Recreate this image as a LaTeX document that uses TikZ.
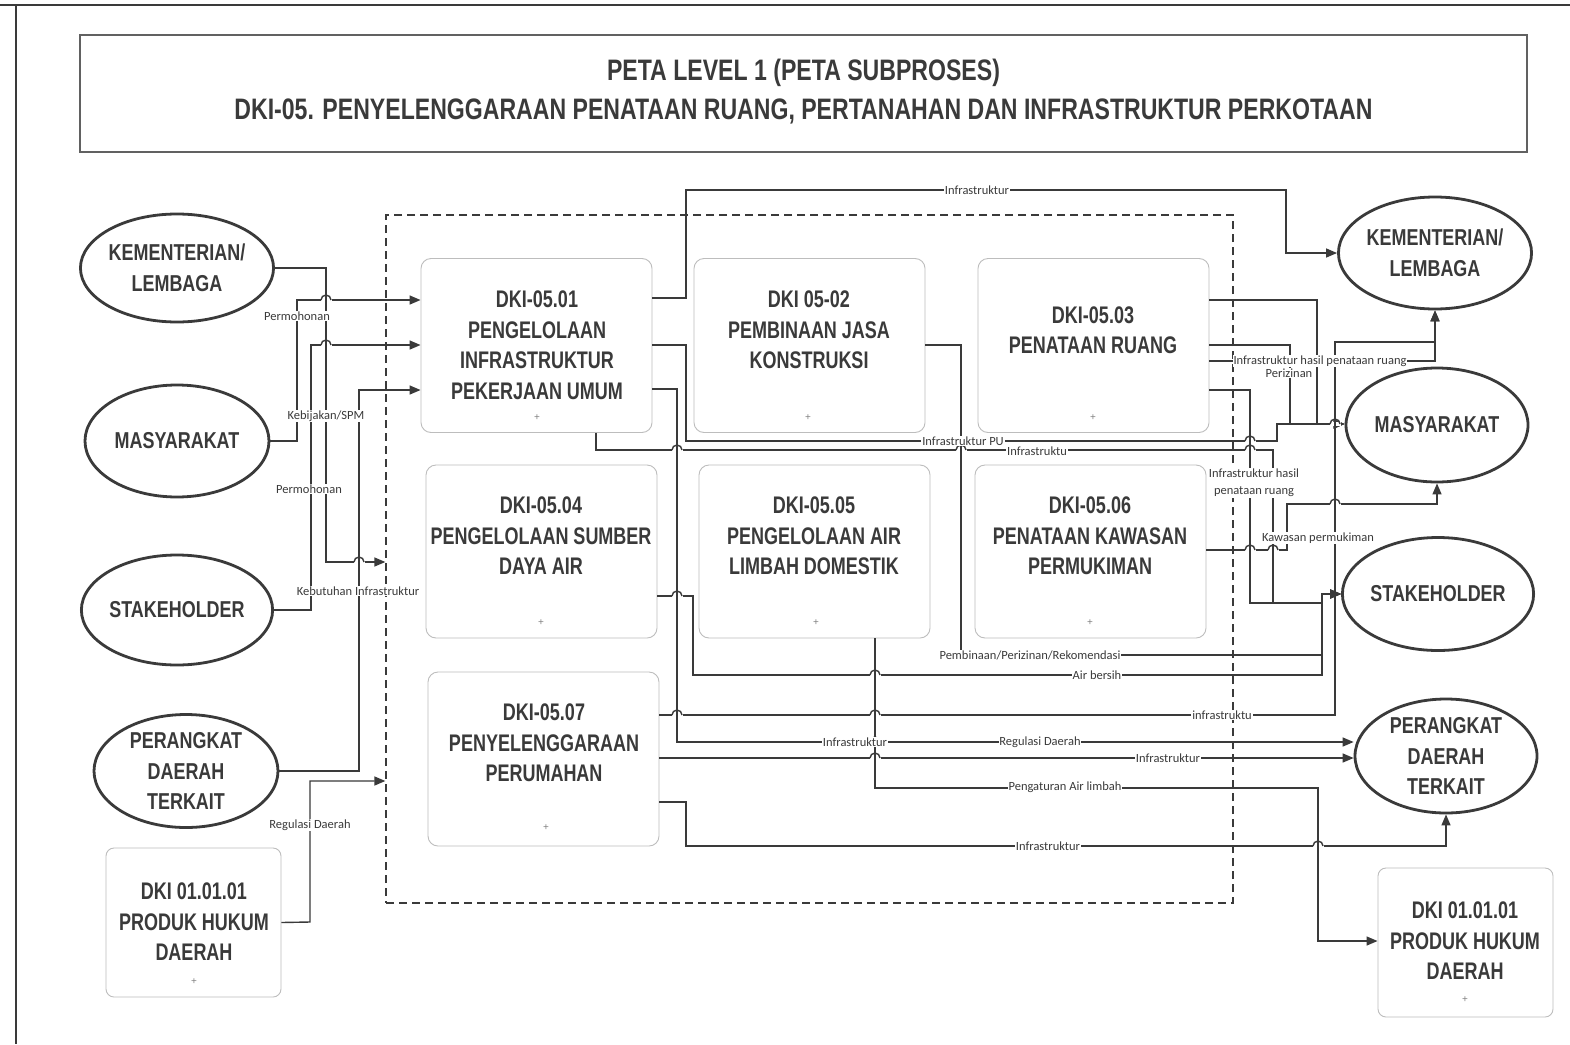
\documentclass[tikz,border=0pt]{standalone}
\usepackage{fontspec}
\setmainfont{Liberation Sans}
\newfontfamily\narrowf[FakeStretch=0.78]{Liberation Sans}
\newfontfamily\narrowg[FakeStretch=0.75]{Liberation Sans}
\newfontfamily\labf{Carlito}
\usetikzlibrary{arrows.meta,shapes.geometric}
\definecolor{ink}{HTML}{3A3A3A}
\definecolor{boxline}{HTML}{BDBDBD}
\newcommand\hopat[2]{%
  \fill[white] (#1-5.5,#2-1.6) rectangle (#1-1,#2+1.6);
  \fill[white] (#1+1,#2-1.6) rectangle (#1+5.5,#2+1.6);
  \draw[conn] (#1-5,#2) arc[start angle=180,end angle=360,radius=5];}
\begin{document}
\begin{tikzpicture}[x=1pt,y=-1pt,
 conn/.style={draw=ink,line width=1.4pt},
 arr/.style={conn,-{Triangle[length=11pt,width=9pt]}},
 ell/.style={ellipse,draw=ink,line width=2.8pt,inner sep=0pt,align=center,font=\narrowf\bfseries\fontsize{23}{30.5}\selectfont,text=ink},
 pbox/.style={rectangle,rounded corners=10pt,draw=boxline,line width=0.9pt,minimum width=231pt,minimum height=174pt,inner sep=0pt},
 dbox/.style={rectangle,rounded corners=8pt,draw=boxline,line width=0.9pt,minimum width=175pt,minimum height=149pt,inner sep=0pt},
 ptext/.style={align=center,font=\narrowg\bfseries\fontsize{24}{30.5}\selectfont,text=ink,inner sep=0pt},
 lab/.style={font=\labf\fontsize{12.5}{14}\selectfont,text=ink,fill=white,inner sep=0.8pt},
 plus/.style={font=\fontsize{10}{10}\selectfont,text=gray,inner sep=0pt}
]
\useasboundingbox (0,0) rectangle (1570,1044);
\fill[white] (0,0) rectangle (1570,1044);
% page frame
\draw[ink,line width=1.5pt] (0,5) -- (1570,5);
\draw[ink,line width=1.5pt] (16,5) -- (16,1044);
% title
\node[draw=ink!80,line width=1.2pt,minimum width=1447pt,minimum height=117pt,inner sep=0pt] (title) at (803.5,93.5) {};
\node[align=center,font=\narrowf\bfseries\fontsize{29.6}{39}\selectfont,text=ink] (titletext) at (803.5,92) {PETA LEVEL 1 (PETA SUBPROSES)\\DKI-05. PENYELENGGARAAN PENATAAN RUANG, PERTANAHAN DAN INFRASTRUKTUR PERKOTAAN};
% group container
\node[draw=ink,dashed,dash pattern=on 8pt off 5pt,line width=1.3pt,minimum width=847pt,minimum height=688pt,inner sep=0pt] (grp) at (809.5,559) {};
% process boxes
\node[pbox] (b1) at (536.5,345.5) {};
\node[pbox] (b2) at (809.5,345.5) {};
\node[pbox] (b3) at (1093.5,345.5) {};
\node[pbox,minimum height=173pt] (b4) at (541.5,551.5) {};
\node[pbox,minimum height=173pt] (b5) at (814.5,551.5) {};
\node[pbox,minimum height=173pt] (b6) at (1090.5,551.5) {};
\node[pbox] (b7) at (543.5,759) {};
\node[dbox] (dl) at (193.5,922.5) {};
\node[dbox] (dr) at (1465.5,942.5) {};
% ellipses
\node[ell,minimum width=184pt,minimum height=108pt] (kl) at (177,268) {KEMENTERIAN/\\LEMBAGA};
\node[ell,minimum width=184pt,minimum height=112pt] (ml) at (177,441) {MASYARAKAT};
\node[ell,minimum width=186pt,minimum height=110pt] (sl) at (177,610) {STAKEHOLDER};
\node[ell,minimum width=184pt,minimum height=113pt] (pl) at (186,771) {PERANGKAT\\DAERAH\\TERKAIT};
\node[ell,minimum width=185pt,minimum height=112pt] (kr) at (1435,253) {KEMENTERIAN/\\LEMBAGA};
\node[ell,minimum width=182pt,minimum height=114pt] (mr) at (1437,425) {MASYARAKAT};
\node[ell,minimum width=183pt,minimum height=113pt] (sr) at (1438,594) {STAKEHOLDER};
\node[ell,minimum width=182pt,minimum height=114pt] (pr) at (1446,756) {PERANGKAT\\DAERAH\\TERKAIT};
% left connectors
\draw[arr] (kl.east) -- (326,268) -- (326,562) -- (grp.west |- 0,562);
\draw[arr] (ml.east) -- (297,441) -- (297,300) -- (b1.west |- 0,300);
\draw[arr] (sl.east) -- (311,610) -- (311,345) -- (b1.west |- 0,345);
\draw[arr] (pl.east) -- (359,771) -- (359,390) -- (b1.west |- 0,390);
\draw[arr] (dl.east) -- (310,922) -- (310,781) -- (grp.west |- 0,781);
% right connectors
\draw[arr] (b1.east |- 0,298) -- (686,298) -- (686,190) -- (1286,190) -- (1286,253) -- (kr.west);
\draw[arr] (b1.east |- 0,345) -- (686,345) -- (686,441) -- (1277,441) -- (1277,424) -- (mr.west |- 0,424);
\draw[arr] (b1.south -| 596,0) -- (596,450) -- (1273,450) -- (1273,603) -- (1322,603) -- (1322,594) -- (sr.west);
\draw[arr] (b2.east |- 0,345) -- (961,345) -- (961,655) -- (1322,655) -- (1322,594) -- (sr.west);
\draw[arr] (b3.east |- 0,300) -- (1317,300) -- (1317,424) -- (mr.west |- 0,424);
\draw[arr] (b3.east |- 0,345) -- (1290,345) -- (1290,424) -- (mr.west |- 0,424);
\draw[arr] (b3.east |- 0,361) -- (1435,361) -- (kr.south);
\draw[arr] (b3.east |- 0,390) -- (1250,390) -- (1250,603) -- (1322,603) -- (1322,594) -- (sr.west);
\draw[arr] (b6.east |- 0,550) -- (1287,550) -- (1287,504) -- (1437,504) -- (mr.south);
\draw[arr] (b4.east |- 0,596) -- (693,596) -- (693,675) -- (1322,675) -- (1322,594) -- (sr.west);
\draw[arr] (b7.east |- 0,715) -- (1335,715) -- (1335,342) -- (1435,342) -- (kr.south);
\draw[arr] (b1.east |- 0,389) -- (677,389) -- (677,742) -- (pr.west |- 0,742);
\draw[arr] (b7.east |- 0,758) -- (pr.west |- 0,758);
\draw[arr] (b5.south -| 875,0) -- (875,788) -- (1318,788) -- (1318,941) -- (dr.west |- 0,941);
\draw[arr] (b7.east |- 0,802) -- (686,802) -- (686,846) -- (1446,846) -- (pr.south);
% line hops
\hopat{326}{300}\hopat{326}{345}\hopat{359}{562}
\hopat{677}{450}\hopat{961}{450}\hopat{1250}{450}\hopat{1250}{441}
\hopat{677}{596}\hopat{875}{675}\hopat{677}{715}\hopat{875}{715}
\hopat{875}{742}\hopat{875}{758}\hopat{1318}{846}\hopat{1335}{424}
\hopat{1335}{504}\hopat{1250}{550}\hopat{1273}{550}
% connector labels
\node[lab] (l1) at (297,316) {Permohonan};
\node[lab] (l2) at (326,416) {Kebijakan/SPM};
\node[lab] (l3) at (309,489) {Permohonan};
\node[lab] (l4) at (358,591) {Kebutuhan Infrastruktur};
\node[lab] (l5) at (310,825) {Regulasi Daerah};
\node[lab] (l6) at (977,190) {Infrastruktur};
\node[lab] (l7) at (963,441) {Infrastruktur PU};
\node[lab] (l8) at (1037,451) {Infrastruktu};
\node[lab] (l9) at (1320,361) {Infrastruktur hasil penataan ruang};
\node[lab] (l10) at (1289,373) {Perizinan};
\node[lab,align=center,font=\labf\fontsize{12.5}{17}\selectfont] (l11) at (1254,483) {Infrastruktur hasil\\penataan ruang};
\node[lab] (l12) at (1318,538) {Kawasan permukiman};
\node[lab] (l13) at (1030,655) {Pembinaan/Perizinan/Rekomendasi};
\node[lab] (l14) at (1097,675) {Air bersih};
\node[lab] (l15) at (1222,715) {infrastruktu};
\node[lab] (l16) at (855,742) {Infrastruktur};
\node[lab] (l17) at (1040,742) {Regulasi Daerah};
\node[lab] (l18) at (1168,758) {Infrastruktur};
\node[lab] (l19) at (1065,787) {Pengaturan Air limbah};
\node[lab] (l20) at (1048,846) {Infrastruktur};
% box texts
\node[ptext] (t1) at (537,345) {DKI-05.01\\PENGELOLAAN\\INFRASTRUKTUR\\PEKERJAAN UMUM};
\node[ptext] (t2) at (809,330) {DKI 05-02\\PEMBINAAN JASA\\KONSTRUKSI};
\node[ptext] (t3) at (1093,330) {DKI-05.03\\PENATAAN RUANG};
\node[ptext] (t4) at (541,536) {DKI-05.04\\PENGELOLAAN SUMBER\\DAYA AIR};
\node[ptext] (t5) at (814,536) {DKI-05.05\\PENGELOLAAN AIR\\LIMBAH DOMESTIK};
\node[ptext] (t6) at (1090,536) {DKI-05.06\\PENATAAN KAWASAN\\PERMUKIMAN};
\node[ptext] (t7) at (544,743) {DKI-05.07\\PENYELENGGARAAN\\PERUMAHAN};
\node[ptext] (tl) at (194,922) {DKI 01.01.01\\PRODUK HUKUM\\DAERAH};
\node[ptext] (tr) at (1465,941) {DKI 01.01.01\\PRODUK HUKUM\\DAERAH};
% small plus marks
\node[plus] (p1) at (537,418) {+};
\node[plus] (p2) at (808,418) {+};
\node[plus] (p3) at (1093,418) {+};
\node[plus] (p4) at (541,623) {+};
\node[plus] (p5) at (816,623) {+};
\node[plus] (p6) at (1090,623) {+};
\node[plus] (p7) at (546,828) {+};
\node[plus] (p8) at (194,982) {+};
\node[plus] (p9) at (1465,1000) {+};
\end{tikzpicture}
\end{document}
